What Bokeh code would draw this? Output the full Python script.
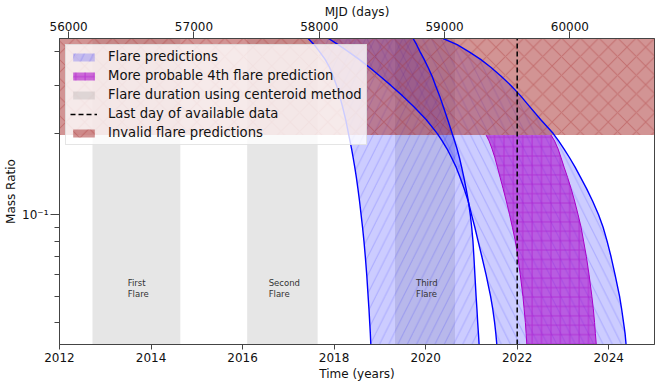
from bokeh.plotting import figure
from bokeh.models import (Range1d, LinearAxis, FixedTicker, CustomJSTickFormatter,
                          Legend, LegendItem)
from bokeh.core.properties import value
from bokeh.embed import file_html
from bokeh.resources import INLINE

# ---------------- data ----------------
year_lo, year_hi = 2012.0, 2025.0
mjd_lo = 55927.0                      # MJD at 2012.0
mjd_hi = mjd_lo + 13 * 365.25          # MJD at 2025.0
q_lo, q_hi = 0.0332, 0.448
q_invalid = 0.197

year_ticks = [2012, 2014, 2016, 2018, 2020, 2022, 2024]
mjd_ticks = [56000, 57000, 58000, 59000, 60000]
q_major = [0.1]
q_minor = [0.04, 0.05, 0.06, 0.07, 0.08, 0.09, 0.2, 0.3, 0.4]

# mass-ratio values along the prediction curves
q_grid = [0.0332, 0.0365, 0.04, 0.045, 0.05, 0.06, 0.07, 0.08, 0.09, 0.10,
          0.1125, 0.125, 0.1375, 0.15, 0.1625, 0.175, 0.1875, 0.2, 0.225, 0.25,
          0.275, 0.3, 0.325, 0.35, 0.375, 0.4, 0.425, 0.448]
bandA_left = [2018.802, 2018.791, 2018.778, 2018.761, 2018.743, 2018.713, 2018.682,
              2018.652, 2018.621, 2018.590, 2018.555, 2018.520, 2018.486, 2018.451,
              2018.416, 2018.383, 2018.346, 2018.313, 2018.252, 2018.186, 2018.121,
              2018.055, 2017.979, 2017.902, 2017.804, 2017.684, 2017.564, 2017.433]
bandA_right = [2021.168, 2021.153, 2021.137, 2021.120, 2021.102, 2021.076, 2021.054,
               2021.033, 2021.006, 2020.976, 2020.932, 2020.884, 2020.834, 2020.786,
               2020.738, 2020.687, 2020.633, 2020.578, 2020.480, 2020.388, 2020.305,
               2020.218, 2020.141, 2020.054, 2019.967, 2019.879, 2019.803, 2019.726]
bandB_left = [2021.555, 2021.533, 2021.507, 2021.465, 2021.419, 2021.321, 2021.229,
              2021.146, 2021.074, 2021.004, 2020.928, 2020.840, 2020.753, 2020.666,
              2020.567, 2020.469, 2020.360, 2020.251, 2020.010, 2019.748, 2019.497,
              2019.246, 2019.005, 2018.776, 2018.547, 2018.317, 2018.088, 2017.876]
bandB_right = [2024.379, 2024.357, 2024.324, 2024.281, 2024.237, 2024.139, 2024.051,
               2023.964, 2023.877, 2023.778, 2023.647, 2023.516, 2023.385, 2023.265,
               2023.145, 2023.025, 2022.905, 2022.784, 2022.511, 2022.282, 2022.075,
               2021.867, 2021.649, 2021.430, 2021.201, 2020.950, 2020.687, 2020.382]

q_mag = [0.0332, 0.0365, 0.04, 0.045, 0.05, 0.06, 0.07, 0.08, 0.09, 0.10,
         0.1125, 0.125, 0.1375, 0.15, 0.1625, 0.175, 0.1875, 0.197]
mag_left = [2022.210, 2022.195, 2022.179, 2022.151, 2022.125, 2022.068, 2022.016,
            2021.959, 2021.895, 2021.834, 2021.762, 2021.692, 2021.627, 2021.568,
            2021.513, 2021.452, 2021.386, 2021.321]
mag_right = [2023.728, 2023.708, 2023.691, 2023.663, 2023.632, 2023.571, 2023.512,
             2023.451, 2023.396, 2023.331, 2023.254, 2023.178, 2023.101, 2023.025,
             2022.959, 2022.894, 2022.817, 2022.741]

flare_start = [2012.72, 2016.10, 2019.33]
flare_end = [2014.64, 2017.64, 2020.64]
flare_names = ["First\nFlare", "Second\nFlare", "Third\nFlare"]
flare_label_x = [2013.49, 2016.57, 2019.79]
flare_label_q = [0.0535, 0.0535, 0.0535]

last_day = 2022.0

FONT = "DejaVu Sans"
MAG = "#a800c8"

# ---------------- figure ----------------
p = figure(frame_width=595, frame_height=306,
           x_range=Range1d(year_lo, year_hi), y_range=Range1d(q_lo, q_hi),
           y_axis_type="log", output_backend="svg", toolbar_location=None,
           min_border_left=59, min_border_right=2, min_border_top=38,
           min_border_bottom=39)
p.extra_x_ranges = {"mjd": Range1d(mjd_lo, mjd_hi)}
p.xgrid.visible = False
p.ygrid.visible = False
p.outline_line_color = "#444444"
p.outline_line_width = 1

# flare durations (full-height spans)
r_gray = p.quad(left=flare_start, right=flare_end, bottom=[q_lo] * 3, top=[q_hi] * 3,
                fill_color="gray", fill_alpha=0.2, line_color=None)

# prediction bands
rA = p.harea(y=q_grid, x1=bandA_left, x2=bandA_right, fill_color="blue", fill_alpha=0.2,
             hatch_pattern="/", hatch_color="blue", hatch_alpha=0.16, hatch_scale=18.5,
             hatch_weight=1)
rB = p.harea(y=q_grid, x1=bandB_left, x2=bandB_right, fill_color="blue", fill_alpha=0.2,
             hatch_pattern="\\", hatch_color="blue", hatch_alpha=0.16, hatch_scale=18.5,
             hatch_weight=1)
rM = p.harea(y=q_mag, x1=mag_left, x2=mag_right, fill_color=MAG, fill_alpha=0.55,
             hatch_pattern="+", hatch_color=MAG, hatch_alpha=0.45, hatch_scale=9.4,
             hatch_weight=1)

# invalid region
rI = p.quad(left=[year_lo], right=[year_hi], bottom=[q_invalid], top=[q_hi],
            fill_color="brown", fill_alpha=0.5, line_color=None,
            hatch_pattern="x", hatch_color="brown", hatch_alpha=0.35, hatch_scale=18.7,
            hatch_weight=1)

# edges
for xs in (bandA_left, bandA_right, bandB_left, bandB_right):
    p.line(x=xs, y=q_grid, line_color="blue", line_width=1.4)
for xs in (mag_left, mag_right):
    p.line(x=xs, y=q_mag, line_color=MAG, line_width=1.0)

# last day
rD = p.line(x=[last_day, last_day], y=[q_lo, q_hi], line_color="black",
            line_width=1.5, line_dash="5 3")

# flare labels
p.text(x=flare_label_x, y=flare_label_q, text=flare_names,
       text_font=value(FONT), text_font_size="8.5px", text_color="#333333",
       text_align="left", text_baseline="middle", text_line_height=1.15)

# ---------------- axes ----------------
def style_axis(ax):
    ax.axis_line_color = "#444444"
    ax.major_tick_line_color = "#444444"
    ax.minor_tick_line_color = "#444444"
    ax.major_label_text_font = FONT
    ax.major_label_text_font_size = "12px"
    ax.major_label_text_color = "#111111"
    ax.axis_label_text_font = FONT
    ax.axis_label_text_font_size = "12px"
    ax.axis_label_text_font_style = "normal"
    ax.axis_label_text_color = "#111111"
    ax.major_tick_in = 0
    ax.minor_tick_in = 0

xb = p.xaxis[0]
style_axis(xb)
xb.ticker = FixedTicker(ticks=year_ticks, minor_ticks=[])
xb.axis_label = "Time (years)"
xb.major_tick_out = 5
xb.major_label_standoff = 3
xb.axis_label_standoff = 2

yl = p.yaxis[0]
style_axis(yl)
yl.ticker = FixedTicker(ticks=q_major, minor_ticks=q_minor)
yl.formatter = CustomJSTickFormatter(code="return '10\u207b\u00b9';")
yl.axis_label = "Mass Ratio"
yl.major_tick_out = 9
yl.minor_tick_out = 5
yl.major_label_standoff = 2
yl.axis_label_standoff = 1

xt = LinearAxis(x_range_name="mjd", axis_label="MJD (days)",
                ticker=FixedTicker(ticks=mjd_ticks, minor_ticks=[]))
style_axis(xt)
xt.major_tick_out = 7
xt.major_label_standoff = 1
xt.axis_label_standoff = 0
p.add_layout(xt, "above")

# ---------------- legend ----------------
legend = Legend(items=[
    LegendItem(label="Flare predictions", renderers=[rA]),
    LegendItem(label="More probable 4th flare prediction", renderers=[rM]),
    LegendItem(label="Flare duration using centeroid method", renderers=[r_gray]),
    LegendItem(label="Last day of available data", renderers=[rD]),
    LegendItem(label="Invalid flare predictions", renderers=[rI]),
], location="top_left")
legend.label_text_font = FONT
legend.label_text_font_size = "13.2px"
legend.label_text_color = "#111111"
legend.glyph_width = 27
legend.glyph_height = 10
legend.label_height = 15
legend.label_standoff = 11
legend.spacing = 4
legend.padding = 4
legend.margin = 6
legend.background_fill_color = "white"
legend.background_fill_alpha = 0.8
legend.border_line_color = "#cccccc"
legend.border_line_width = 1
p.add_layout(legend)

open("out.html", "w").write(file_html(p, INLINE))
